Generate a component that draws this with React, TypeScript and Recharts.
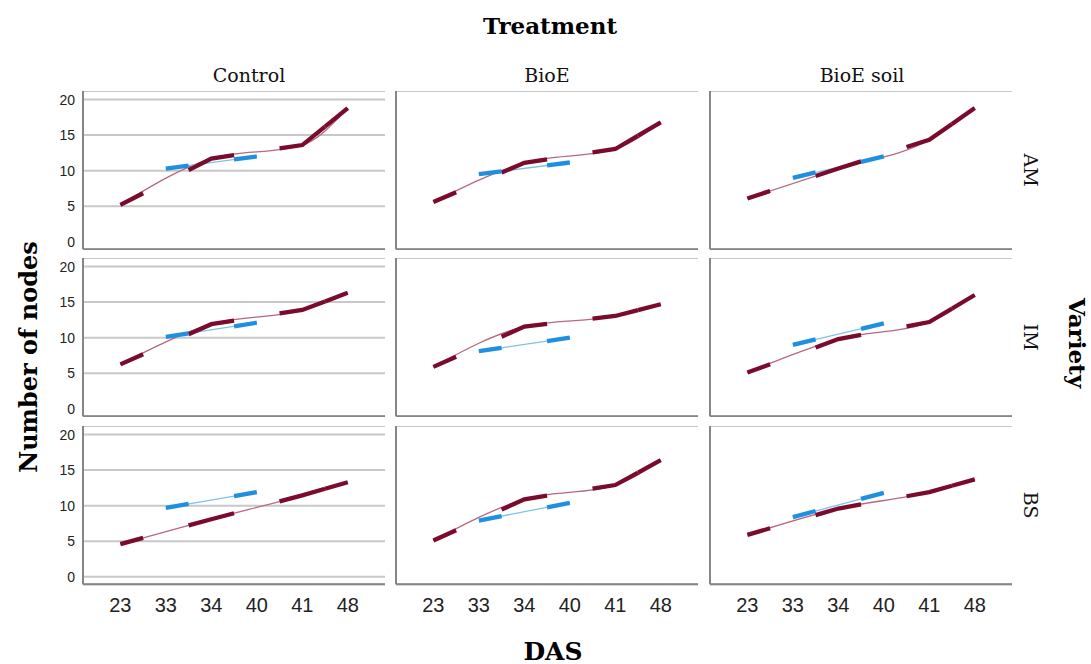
import React from 'react';
import { LineChart, Line, XAxis, YAxis, CartesianGrid } from 'recharts';

const DAS_LABELS = ['23', '33', '34', '40', '41', '48'];
const TREATMENTS = ['Control', 'BioE', 'BioE soil'];
const VARIETIES = ['AM', 'IM', 'BS'];
const Y_TICKS = [0, 5, 10, 15, 20];
// category positions (index into DAS_LABELS) where each series is observed
const RED_AT = [0, 2, 4, 5];
const BLUE_AT = [1, 3];

const AM_CONTROL_RED = [5.2, 11.7, 13.6, 18.8];
const AM_CONTROL_BLUE = [10.3, 12.0];
const AM_BIOE_RED = [5.6, 11.1, 13.05, 16.8];
const AM_BIOE_BLUE = [9.5, 11.15];
const AM_SOIL_RED = [6.1, 10.3, 14.35, 18.8];
const AM_SOIL_BLUE = [9.0, 12.0];

const IM_CONTROL_RED = [6.25, 11.9, 13.9, 16.3];
const IM_CONTROL_BLUE = [10.1, 12.1];
const IM_BIOE_RED = [5.9, 11.55, 13.05, 14.7];
const IM_BIOE_BLUE = [8.1, 10.0];
const IM_SOIL_RED = [5.1, 9.8, 12.2, 16.0];
const IM_SOIL_BLUE = [9.0, 12.0];

const BS_CONTROL_RED = [4.6, 8.1, 11.45, 13.3];
const BS_CONTROL_BLUE = [9.7, 11.9];
const BS_BIOE_RED = [5.1, 10.9, 12.9, 16.4];
const BS_BIOE_BLUE = [7.9, 10.4];
const BS_SOIL_RED = [5.9, 9.6, 11.9, 13.7];
const BS_SOIL_BLUE = [8.4, 11.8];

const PANEL_RED = [
  [AM_CONTROL_RED, AM_BIOE_RED, AM_SOIL_RED],
  [IM_CONTROL_RED, IM_BIOE_RED, IM_SOIL_RED],
  [BS_CONTROL_RED, BS_BIOE_RED, BS_SOIL_RED],
];
const PANEL_BLUE = [
  [AM_CONTROL_BLUE, AM_BIOE_BLUE, AM_SOIL_BLUE],
  [IM_CONTROL_BLUE, IM_BIOE_BLUE, IM_SOIL_BLUE],
  [BS_CONTROL_BLUE, BS_BIOE_BLUE, BS_SOIL_BLUE],
];

// layout
const COL_LEFT = [82.7, 395.7, 709.5];
const ROW_TOP = [91, 258, 426];
const PLOT_W = 302;
const PLOT_H = 158.3;
const X_DOMAIN: [number, number] = [-0.822, 5.819];
const Y_DOMAIN: [number, number] = [-1.05, 21.2];

const RED_THICK = '#7a0b2d';
const RED_THIN = '#b8677f';
const BLUE_THICK = '#1f8fe0';
const BLUE_THIN = '#7cc2ef';
const GRID = '#c8c8c8';
const AXIS = '#868686';

type Pt = { x: number; y: number };

function toPoints(at: number[], vals: number[]): Pt[] {
  return at.map((x, i) => ({ x, y: vals[i] }));
}

function lerp(a: Pt, b: Pt, x: number) {
  return a.y + ((b.y - a.y) * (x - a.x)) / (b.x - a.x);
}

// thick pieces: the linear path within half a category of each observation
function thickPieces(pts: Pt[]): Pt[][] {
  return pts.map((p, k) => {
    const seg: Pt[] = [];
    const prev = pts[k - 1];
    const next = pts[k + 1];
    if (prev) {
      const lo = p.x - 0.5;
      seg.push({ x: lo, y: lerp(prev, p, lo) });
    }
    seg.push(p);
    if (next) {
      const hi = p.x + 0.5;
      seg.push({ x: hi, y: lerp(p, next, hi) });
    }
    return seg;
  });
}

function Panel({ r, c }: { r: number; c: number }) {
  const red = toPoints(RED_AT, PANEL_RED[r][c]);
  const blue = toPoints(BLUE_AT, PANEL_BLUE[r][c]);
  const yw = c === 0 ? 45 : 1;
  const xh = r === 2 ? 40 : 1;
  return (
    <div style={{ position: 'absolute', left: COL_LEFT[c] - yw, top: ROW_TOP[r] }}>
      <LineChart
        width={yw + PLOT_W}
        height={PLOT_H + xh}
        margin={{ top: 0, right: 0, bottom: 0, left: 0 }}
      >
        <CartesianGrid vertical={false} stroke={GRID} strokeWidth={2} />
        <XAxis
          dataKey="x"
          type="number"
          domain={X_DOMAIN}
          ticks={[0, 1, 2, 3, 4, 5]}
          tickFormatter={(v: number) => DAS_LABELS[v]}
          allowDataOverflow
          height={xh}
          tick={r === 2 ? { fill: '#222', fontSize: 20, fontFamily: 'Liberation Sans, Arial, sans-serif' } : false}
          tickLine={false}
          tickMargin={8}
          axisLine={{ stroke: AXIS, strokeWidth: 2 }}
        />
        <YAxis
          type="number"
          domain={Y_DOMAIN}
          ticks={Y_TICKS}
          allowDataOverflow
          width={yw}
          tick={c === 0 ? { fill: '#222', fontSize: 14, fontFamily: 'Liberation Sans, Arial, sans-serif' } : false}
          tickLine={false}
          axisLine={{ stroke: AXIS, strokeWidth: 2 }}
        />
        <Line
          data={red}
          dataKey="y"
          type="monotone"
          stroke={RED_THIN}
          strokeWidth={1.3}
          dot={false}
          activeDot={false}
          isAnimationActive={false}
        />
        <Line
          data={blue}
          dataKey="y"
          type="monotone"
          stroke={BLUE_THIN}
          strokeWidth={1.3}
          dot={false}
          activeDot={false}
          isAnimationActive={false}
        />
        {thickPieces(red).map((seg, i) => (
          <Line
            key={'r' + i}
            data={seg}
            dataKey="y"
            type="linear"
            stroke={RED_THICK}
            strokeWidth={4.3}
            dot={false}
            activeDot={false}
            isAnimationActive={false}
          />
        ))}
        {thickPieces(blue).map((seg, i) => (
          <Line
            key={'b' + i}
            data={seg}
            dataKey="y"
            type="linear"
            stroke={BLUE_THICK}
            strokeWidth={4.3}
            dot={false}
            activeDot={false}
            isAnimationActive={false}
          />
        ))}
      </LineChart>
    </div>
  );
}

const SERIF = "'DejaVu Serif', 'Liberation Serif', serif";

export default function App() {
  const stripX = [249, 547, 862];
  const rowMid = ROW_TOP.map((t) => t + PLOT_H / 2);
  return (
    <div style={{ position: 'absolute', left: 0, top: 0, width: 1091, height: 664, background: '#fff' }}>
      {[0, 1, 2].map((r) => [0, 1, 2].map((c) => <Panel key={r + '-' + c} r={r} c={c} />))}
      <svg width={1091} height={664} style={{ position: 'absolute', left: 0, top: 0, pointerEvents: 'none' }}>
        <text x={550} y={25} textAnchor="middle" dominantBaseline="central" fontFamily={SERIF} fontWeight="bold" fontSize={23} fill="#000">
          Treatment
        </text>
        {TREATMENTS.map((t, i) => (
          <text key={t} x={stripX[i]} y={75} textAnchor="middle" dominantBaseline="central" fontFamily={SERIF} fontSize={19} fill="#111">
            {t}
          </text>
        ))}
        {VARIETIES.map((v, i) => (
          <text
            key={v}
            x={1031}
            y={rowMid[i]}
            textAnchor="middle"
            dominantBaseline="central"
            fontFamily={SERIF}
            fontSize={19}
            fill="#111"
            transform={`rotate(90 1031 ${rowMid[i]})`}
          >
            {v}
          </text>
        ))}
        <text
          x={1077}
          y={343}
          textAnchor="middle"
          dominantBaseline="central"
          fontFamily={SERIF}
          fontWeight="bold"
          fontSize={23}
          fill="#000"
          transform="rotate(90 1077 343)"
        >
          Variety
        </text>
        <text
          x={28}
          y={357}
          textAnchor="middle"
          dominantBaseline="central"
          fontFamily={SERIF}
          fontWeight="bold"
          fontSize={24}
          fill="#000"
          transform="rotate(-90 28 357)"
        >
          Number of nodes
        </text>
        <text x={553} y={651} textAnchor="middle" dominantBaseline="central" fontFamily={SERIF} fontWeight="bold" fontSize={25} fill="#000">
          DAS
        </text>
      </svg>
    </div>
  );
}
